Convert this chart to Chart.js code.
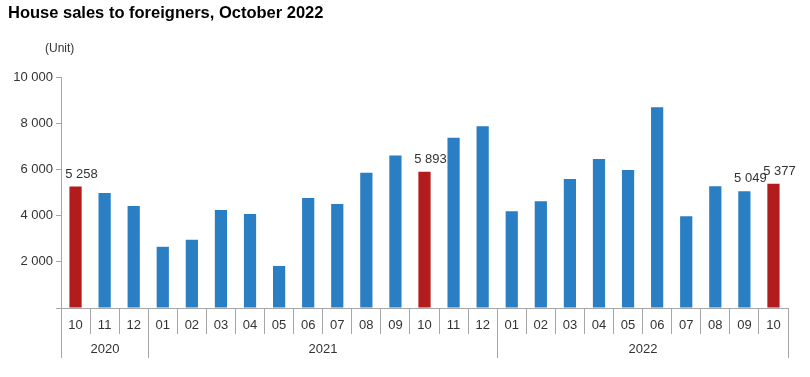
<!DOCTYPE html>
<html>
<head>
<meta charset="utf-8">
<script src="https://cdn.jsdelivr.net/npm/chart.js@4"></script>
<style>
    body { margin: 0; background: #fff; font-family: "Liberation Sans", Arial, sans-serif; }
    #wrap { position: relative; width: 810px; height: 377px; }
    #title { position: absolute; left: 8px; top: 3px; font-size: 16.5px; font-weight: bold; color: #000; }
    #unit { position: absolute; left: 45px; top: 41px; font-size: 12px; color: #333; }
    canvas { position: absolute; left: 0; top: 0; }
</style>
</head>
<body>
<div id="wrap">
    <canvas id="salesChart" width="810" height="377"></canvas>
    <div id="title">House sales to foreigners, October 2022</div>
    <div id="unit">(Unit)</div>
</div>
<script>
const months = ['10', '11', '12',
    '01', '02', '03', '04', '05', '06', '07', '08', '09', '10', '11', '12',
    '01', '02', '03', '04', '05', '06', '07', '08', '09', '10'];
const years = ['2020', '2021', '2022'];
const yearCounts = [3, 12, 10];
const sales = [5258, 4980, 4420,
    2650, 2950, 4240, 4070, 1820, 4760, 4500, 5850, 6600, 5893, 7370, 7870,
    4190, 4620, 5580, 6450, 5970, 8690, 3970, 5270, 5049, 5377];
// red bars, and bars that get a value label
const highlighted = [0, 12, 24];
const labelled = [0, 12, 23, 24];

const blue = '#2a7ec3';
const red = '#b21c1c';
const axisGrey = '#a6a6a6';
const fontFamily = '"Liberation Sans", Arial, sans-serif';

function formatNum(v) {
    return String(v).replace(/\B(?=(\d{3})+(?!\d))/g, ' ');
}

const barColors = sales.map((v, i) => highlighted.includes(i) ? red : blue);

// year row below month labels
const yearAxisPlugin = {
    id: 'yearAxis',
    afterDraw(chart) {
        const ctx = chart.ctx;
        const x = chart.scales.x;
        const bottom = chart.chartArea.bottom;
        const half = (x.getPixelForValue(1) - x.getPixelForValue(0)) / 2;
        ctx.save();
        ctx.strokeStyle = axisGrey;
        ctx.lineWidth = 1;
        ctx.fillStyle = '#333';
        ctx.font = '13px ' + fontFamily;
        ctx.textAlign = 'center';
        ctx.textBaseline = 'middle';
        let start = 0;
        for (let i = 0; i < years.length; i++) {
            const end = start + yearCounts[i] - 1;
            const left = Math.round(x.getPixelForValue(start) - half) + 0.5;
            const right = Math.round(x.getPixelForValue(end) + half) + 0.5;
            ctx.beginPath();
            ctx.moveTo(left, bottom);
            ctx.lineTo(left, bottom + 50);
            ctx.moveTo(right, bottom);
            ctx.lineTo(right, bottom + 50);
            ctx.stroke();
            ctx.fillText(years[i], (left + right) / 2, bottom + 41);
            start = end + 1;
        }
        ctx.restore();
    }
};

const valueLabelPlugin = {
    id: 'valueLabels',
    afterDatasetsDraw(chart) {
        const ctx = chart.ctx;
        const meta = chart.getDatasetMeta(0);
        ctx.save();
        ctx.fillStyle = '#333';
        ctx.font = '13px ' + fontFamily;
        ctx.textAlign = 'center';
        ctx.textBaseline = 'bottom';
        labelled.forEach(i => {
            const bar = meta.data[i];
            ctx.fillText(formatNum(sales[i]), bar.x + 6, bar.y - 6);
        });
        ctx.restore();
    }
};

const ctx = document.getElementById('salesChart').getContext('2d');
new Chart(ctx, {
    type: 'bar',
    data: {
        labels: months,
        datasets: [{
            data: sales,
            backgroundColor: barColors,
            categoryPercentage: 1,
            barPercentage: 0.42
        }]
    },
    options: {
        responsive: false,
        animation: false,
        layout: { padding: { left: 0, top: 77, right: 22, bottom: 0 } },
        plugins: {
            legend: { display: false },
            tooltip: { enabled: false }
        },
        scales: {
            x: {
                offset: true,
                grid: {
                    offset: true,
                    drawOnChartArea: false,
                    tickLength: 26,
                    color: axisGrey
                },
                border: { color: axisGrey },
                ticks: {
                    color: '#333',
                    font: { size: 13, family: fontFamily },
                    maxRotation: 0,
                    autoSkip: false,
                    padding: -16
                },
                afterFit(scale) { scale.height = 69; }
            },
            y: {
                min: 0,
                max: 10000,
                ticks: {
                    stepSize: 2000,
                    color: '#333',
                    font: { size: 13, family: fontFamily },
                    padding: 3,
                    callback: function(value) {
                        return value === 0 ? '' : formatNum(value);
                    }
                },
                grid: {
                    drawOnChartArea: false,
                    tickLength: 5,
                    color: axisGrey
                },
                border: { color: axisGrey },
                afterFit(scale) { scale.width = 61; }
            }
        }
    },
    plugins: [yearAxisPlugin, valueLabelPlugin]
});
</script>
</body>
</html>
